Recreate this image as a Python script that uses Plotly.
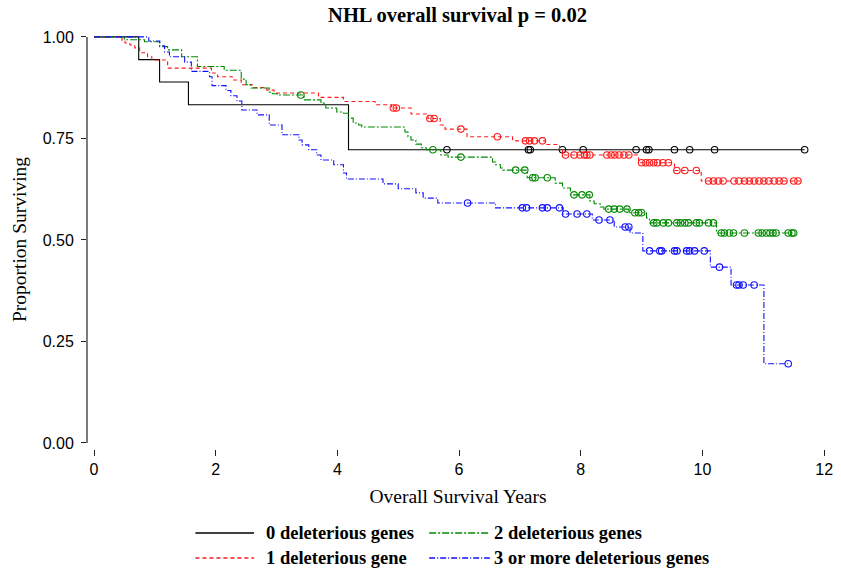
import plotly.graph_objects as go

# ---------------- data ----------------
# 0 deleterious genes
t0 = [0.735, 1.078, 1.552, 4.183]
s0 = [0.944, 0.889, 0.833, 0.722]
c0 = [5.80, 7.14, 7.17, 7.70, 8.04, 8.91, 9.08, 9.12, 9.54, 9.79, 10.20, 11.68]
end0 = 11.68

# 1 deleterious gene
t1 = [0.46, 0.51, 0.59, 0.67, 0.75, 0.88, 0.95, 1.21, 1.93, 2.03, 2.27, 2.42,
      2.63, 2.84, 2.96, 3.69, 4.10, 4.62, 4.89, 5.21, 5.49, 5.69, 5.77, 6.13,
      6.88, 7.42, 7.65, 7.70, 8.95, 9.54, 9.98]
s1 = [0.992, 0.985, 0.980, 0.973, 0.961, 0.951, 0.943, 0.923, 0.911, 0.902, 0.894, 0.882,
      0.875, 0.869, 0.862, 0.851, 0.841, 0.833, 0.825, 0.810, 0.799, 0.783, 0.773, 0.754,
      0.744, 0.735, 0.723, 0.709, 0.690, 0.671, 0.645]
c1 = [4.92, 4.97, 5.52, 5.59, 6.03, 6.63, 7.09, 7.16, 7.24, 7.37, 7.75, 7.89, 7.99,
      8.06, 8.10, 8.15, 8.43, 8.50, 8.56, 8.63, 8.71, 8.79, 9.00, 9.07, 9.13, 9.20,
      9.26, 9.35, 9.44, 9.58, 9.71, 9.90, 10.10, 10.18, 10.26, 10.34, 10.52, 10.60,
      10.69, 10.77, 10.85, 10.93, 11.01, 11.09, 11.18, 11.26, 11.34, 11.50, 11.57]
end1 = 11.62

# 2 deleterious genes
t2 = [0.50, 0.83, 1.08, 1.21, 1.44, 1.70, 2.14, 2.42, 2.50, 2.58, 2.88, 2.93, 3.01,
      3.45, 3.73, 3.81, 3.99, 4.10, 4.18, 4.26, 4.35, 4.40, 5.11, 5.16, 5.21, 5.29,
      5.38, 5.46, 5.70, 5.82, 6.55, 6.60, 6.68, 6.72, 7.12, 7.58, 7.70, 7.83, 8.15,
      8.22, 8.32, 8.38, 8.79, 9.08, 9.13, 10.23]
s2 = [0.993, 0.988, 0.976, 0.968, 0.951, 0.927, 0.918, 0.896, 0.882, 0.874, 0.864, 0.860, 0.857,
      0.845, 0.837, 0.825, 0.815, 0.812, 0.800, 0.788, 0.783, 0.778, 0.766, 0.754, 0.746, 0.736,
      0.727, 0.722, 0.709, 0.704, 0.692, 0.685, 0.677, 0.672, 0.653, 0.640, 0.628, 0.611, 0.596,
      0.589, 0.581, 0.576, 0.567, 0.554, 0.542, 0.517]
c2 = [3.40, 5.57, 6.03, 6.93, 7.08, 7.21, 7.25, 7.45, 7.89, 8.02, 8.14, 8.46, 8.55, 8.64,
      8.76, 8.89, 8.95, 9.00, 9.20, 9.25, 9.36, 9.44, 9.58, 9.64, 9.71, 9.77, 9.90, 9.95,
      10.10, 10.18, 10.31, 10.36, 10.44, 10.51, 10.69, 10.92, 10.98, 11.05, 11.11, 11.16,
      11.21, 11.41, 11.47, 11.50]
end2 = 11.50

# 3 or more deleterious genes
t3 = [0.90, 1.08, 1.16, 1.24, 1.49, 1.60, 1.90, 1.94, 2.17, 2.25, 2.35, 2.43, 2.68, 2.88,
      3.09, 3.37, 3.42, 3.53, 3.66, 3.73, 3.94, 4.10, 4.15, 4.75, 5.00, 5.29, 5.41, 5.65,
      6.60, 7.71, 8.19, 8.55, 8.81, 9.02, 10.13, 10.47, 11.01]
s3 = [0.990, 0.978, 0.963, 0.951, 0.938, 0.915, 0.902, 0.880, 0.868, 0.855, 0.842, 0.820,
      0.808, 0.783, 0.759, 0.746, 0.734, 0.722, 0.709, 0.697, 0.685, 0.665, 0.650, 0.638,
      0.626, 0.616, 0.603, 0.591, 0.579, 0.564, 0.549, 0.532, 0.517, 0.473, 0.433, 0.389, 0.195]
c3 = [6.14, 7.04, 7.11, 7.37, 7.45, 7.65, 7.75, 7.94, 8.10, 8.30, 8.48, 8.73, 8.79, 9.13,
      9.30, 9.33, 9.54, 9.58, 9.74, 9.79, 9.87, 10.03, 10.28, 10.56, 10.60, 10.67, 10.85, 11.41]
end3 = 11.41

groups = [
    ("0 deleterious genes", t0, s0, c0, end0, "#000000", "solid"),
    ("1 deleterious gene", t1, s1, c1, end1, "#ff1a1a", "4px,3px"),
    ("2 deleterious genes", t2, s2, c2, end2, "#008a00", "7px,2px,2px,2px"),
    ("3 or more deleterious genes", t3, s3, c3, end3, "#1010ff", "6px,2px,1px,2px"),
]


def surv_at(t, times, surv):
    v = 1.0
    for ti, si in zip(times, surv):
        if ti <= t:
            v = si
    return v


fig = go.Figure()
for name, tt, ss, cc, tend, col, dash in groups:
    xs = [0.0] + tt + [tend]
    ys = [1.0] + ss + [ss[-1]]
    fig.add_trace(go.Scatter(x=xs, y=ys, mode="lines", line_shape="hv",
                             line=dict(color=col, width=1.1, dash=dash),
                             name=name, showlegend=False, hoverinfo="skip"))
    fig.add_trace(go.Scatter(x=cc, y=[surv_at(c, tt, ss) for c in cc], mode="markers",
                             marker=dict(symbol="circle-open", size=6.5, color=col,
                                         line=dict(width=1.1, color=col)),
                             name=name + " (censored)", showlegend=False, hoverinfo="skip"))

# y-axis line from 0 to 1 only
fig.add_shape(type="line", xref="paper", yref="y", x0=0, x1=0, y0=0, y1=1,
              line=dict(color="#222222", width=1.2))

# manual legend (2 x 2)
W, H = 746.0, 419.0
def px_x(p):
    return (p - 87) / W
def px_y(p):
    return (449 - p) / H

legend_items = [
    (0, 196, 255, 265, 533),
    (2, 431, 492, 494, 533),
    (1, 196, 255, 265, 558),
    (3, 431, 492, 494, 558),
]
for gi, lx0, lx1, tx, ly in legend_items:
    name, _, _, _, _, col, dash = groups[gi]
    fig.add_shape(type="line", xref="paper", yref="paper",
                  x0=px_x(lx0), x1=px_x(lx1), y0=px_y(ly), y1=px_y(ly),
                  line=dict(color=col, width=1.6, dash=dash))
    fig.add_annotation(xref="paper", yref="paper", x=px_x(tx), y=px_y(ly),
                       text=name, showarrow=False, xanchor="left", yanchor="middle",
                       font=dict(family="Liberation Serif", size=18.5, color="#000000", weight="bold"))

fig.update_layout(
    width=841, height=574,
    margin=dict(l=87, r=8, t=30, b=125),
    paper_bgcolor="white", plot_bgcolor="white",
    title=dict(text="<b>NHL overall survival p = 0.02</b>", x=0.544, xanchor="center",
               y=1 - 15 / 574, yanchor="middle",
               font=dict(family="Liberation Serif", size=20.5, color="#000000")),
    showlegend=False,
    xaxis=dict(range=[-0.115, 12.08], tickvals=[0, 2, 4, 6, 8, 10, 12],
               showgrid=False, zeroline=False, showline=False,
               ticks="outside", ticklen=6, tickcolor="#222222",
               tickfont=dict(family="Liberation Sans", size=16, color="#000000"),
               title=dict(text="Overall Survival Years", standoff=12,
                          font=dict(family="Liberation Serif", size=19.5, color="#000000"))),
    yaxis=dict(range=[-0.0148, 1.017], tickvals=[0, 0.25, 0.5, 0.75, 1.0], tickformat=".2f",
               showgrid=False, zeroline=False, showline=False,
               ticks="outside", ticklen=5, tickcolor="#222222", ticklabelstandoff=4,
               tickfont=dict(family="Liberation Sans", size=16, color="#000000"),
               title=dict(text="Proportion Surviving", standoff=10,
                          font=dict(family="Liberation Serif", size=19.5, color="#000000"))),
)

fig.write_html("out.html")
